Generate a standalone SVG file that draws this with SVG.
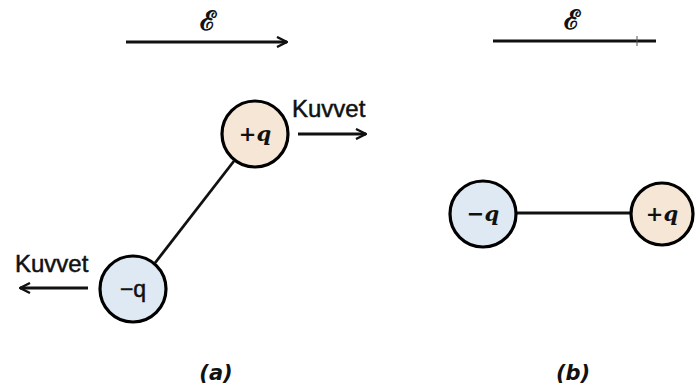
<svg xmlns="http://www.w3.org/2000/svg" width="699" height="391" viewBox="0 0 699 391">
<style>
.ln{stroke:#111;stroke-width:2.8;fill:none}
.kv{font-family:"Liberation Sans",Arial,sans-serif;font-size:24px;fill:#111;stroke:#111;stroke-width:0.5}
.sym{font-family:"DejaVu Serif","Liberation Serif",serif;font-style:italic;font-weight:bold;font-size:21px;fill:#111}
.symS{font-family:"Liberation Sans",Arial,sans-serif;font-size:23px;fill:#111;stroke:#111;stroke-width:0.5}
.cap{font-family:"DejaVu Sans","Liberation Sans",sans-serif;font-style:italic;font-weight:bold;font-size:21px;fill:#111}
.E{font-family:"DejaVu Serif","Liberation Serif",serif;font-size:27px;font-weight:bold;fill:#111}
</style>
<defs>
<marker id="ah" viewBox="0 0 12 12" refX="11" refY="6" markerWidth="12" markerHeight="12" markerUnits="userSpaceOnUse" orient="auto">
<path d="M1,1 L11,6 L1,11" fill="none" stroke="#111" stroke-width="2.4"/>
</marker>
</defs>
<rect width="699" height="391" fill="#ffffff"/>
<g id="connectors">
<line class="ln" x1="126" y1="42" x2="287" y2="42" marker-end="url(#ah)"/>
<line class="ln" x1="298" y1="134" x2="366" y2="134" marker-end="url(#ah)"/>
<line class="ln" x1="88" y1="288" x2="20" y2="288" marker-end="url(#ah)"/>
<line class="ln" x1="155" y1="263" x2="234" y2="161"/>
<line class="ln" x1="493" y1="41" x2="656" y2="41"/>
<line stroke="#555" stroke-width="1" x1="637" y1="36" x2="637" y2="46"/>
<line class="ln" x1="517" y1="213" x2="631" y2="213"/>
</g>
<g id="fieldA"><text class="E" x="208" y="30" text-anchor="middle">ℰ</text></g>
<g id="fieldB"><text class="E" x="572" y="29" text-anchor="middle">ℰ</text></g>
<g id="posA">
<circle cx="255" cy="134" r="33" fill="#f5e6d6" stroke="#000" stroke-width="3.2"/>
<text class="sym" x="255" y="141" text-anchor="middle">+q</text>
</g>
<g id="negA">
<circle cx="133" cy="289" r="33" fill="#dfe9f3" stroke="#000" stroke-width="3.2"/>
<text class="symS" x="133" y="297" text-anchor="middle">−q</text>
</g>
<g id="forceA1"><text class="kv" x="292" y="117">Kuvvet</text></g>
<g id="forceA2"><text class="kv" x="15" y="272">Kuvvet</text></g>
<g id="negB">
<circle cx="483" cy="214" r="33" fill="#dfe9f3" stroke="#000" stroke-width="3.2"/>
<text class="sym" x="483" y="221" text-anchor="middle">−q</text>
</g>
<g id="posB">
<circle cx="662" cy="214" r="31" fill="#f5e6d6" stroke="#000" stroke-width="3.2"/>
<text class="sym" x="662" y="221" text-anchor="middle">+q</text>
</g>
<g id="labels">
<text class="cap" x="216" y="380" text-anchor="middle">(a)</text>
<text class="cap" x="573" y="380" text-anchor="middle">(b)</text>
</g>
</svg>
